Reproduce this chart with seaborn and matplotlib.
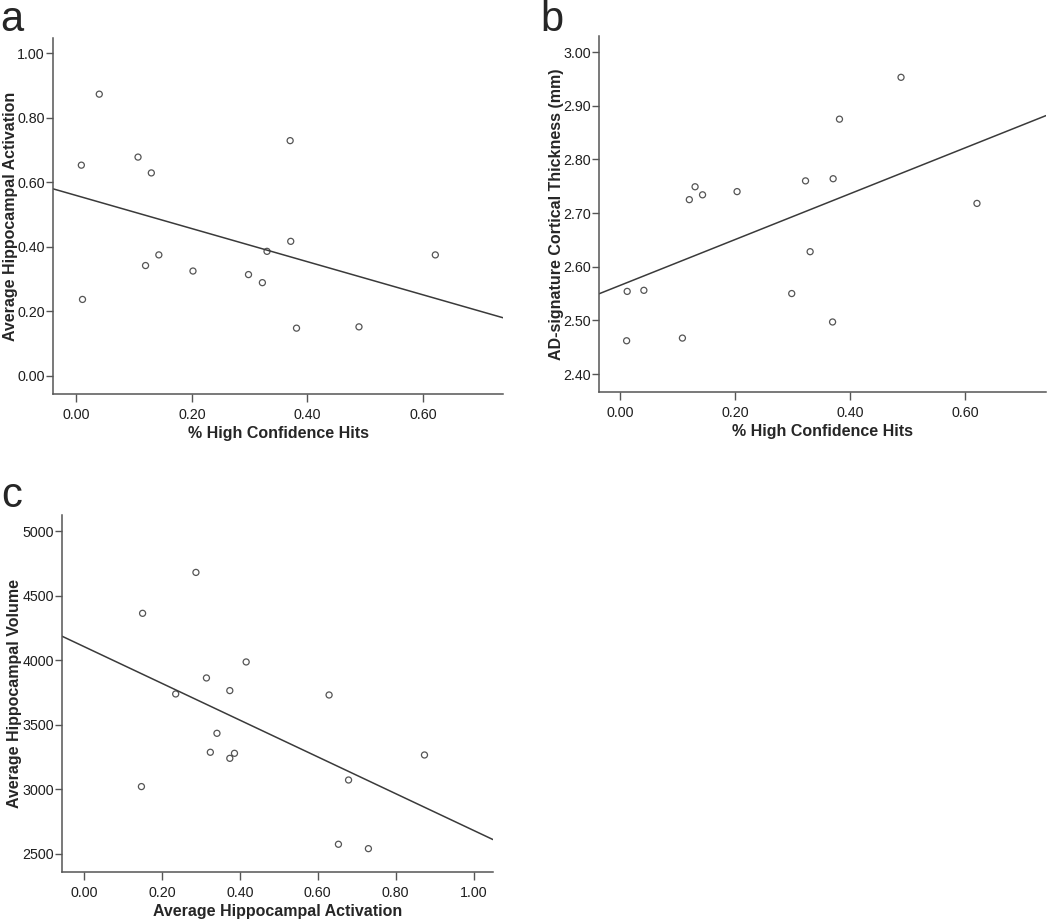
"""
Three-panel scatter with linear fit lines (hit rate, activation, thickness, volume).
"""

import matplotlib
matplotlib.use("Agg")
import matplotlib.pyplot as plt
import seaborn as sns
import numpy as np

sns.set_style("white")
plt.rcParams['font.family'] = ['Liberation Sans', 'DejaVu Sans']

# % high confidence hits (shared x for panels a and b)
hits = [0.009, 0.040, 0.011, 0.107, 0.130, 0.120, 0.143, 0.202,
        0.298, 0.322, 0.330, 0.370, 0.371, 0.381, 0.489, 0.621]
# average hippocampal activation (panel a, y)
activation = [0.653, 0.873, 0.237, 0.678, 0.629, 0.342, 0.375, 0.325,
              0.314, 0.289, 0.386, 0.729, 0.417, 0.148, 0.152, 0.375]

# panel b
hits_b = [0.012, 0.041, 0.011, 0.108, 0.120, 0.130, 0.143, 0.203,
          0.298, 0.322, 0.330, 0.370, 0.369, 0.381, 0.488, 0.620]
thickness = [2.554, 2.556, 2.462, 2.467, 2.725, 2.749, 2.734, 2.740,
             2.550, 2.760, 2.628, 2.764, 2.497, 2.875, 2.953, 2.718]

# panel c
activation_c = [0.150, 0.147, 0.235, 0.287, 0.314, 0.324, 0.341, 0.374,
                0.374, 0.386, 0.416, 0.629, 0.653, 0.679, 0.730, 0.874]
volume = [4365, 3022, 3740, 4682, 3864, 3288, 3435, 3766,
          3241, 3280, 3988, 3732, 2575, 3073, 2541, 3267]

W, H = 1050, 919
fig = plt.figure(figsize=(W / 100, H / 100), dpi=100)


def make_axes(left, top, right, bottom):
    return fig.add_axes([left / W, 1 - bottom / H, (right - left) / W, (bottom - top) / H])


def panel(ax, x, y, xlim, ylim, xticks, yticks, fmt_y, xlabel, ylabel, ylab_x):
    ax.set_xlim(xlim)
    ax.set_ylim(ylim)
    sns.regplot(x=np.array(x), y=np.array(y), ax=ax, ci=None, truncate=False,
                scatter_kws={'s': 19, 'facecolors': 'none', 'edgecolors': '#2a2a2a',
                             'linewidths': 0.9},
                line_kws={'color': '#3a3a3a', 'linewidth': 1.1})
    ax.set_xlim(xlim)
    ax.set_ylim(ylim)
    ax.set_xticks(xticks)
    ax.set_yticks(yticks)
    ax.set_xticklabels(['{:.2f}'.format(v) for v in xticks])
    ax.set_yticklabels([fmt_y.format(v) for v in yticks])
    ax.tick_params(axis='x', direction='out', length=6, width=1.0,
                   color='#555555', labelsize=10.3, labelcolor='#1e1e1e', pad=4,
                   bottom=True)
    ax.tick_params(axis='y', direction='out', length=5, width=1.0,
                   color='#555555', labelsize=10.3, labelcolor='#1e1e1e', pad=1,
                   left=True)
    for side in ['top', 'right']:
        ax.spines[side].set_visible(False)
    for side in ['left', 'bottom']:
        ax.spines[side].set_color('#555555')
        ax.spines[side].set_linewidth(1.1)
    ax.set_xlabel(xlabel, fontsize=11.5, fontweight='bold', labelpad=3)
    ax.set_ylabel(ylabel, fontsize=11.5, fontweight='bold')
    ax.yaxis.set_label_coords(ylab_x, 0.5)
    ax.grid(False)


ax_a = make_axes(53, 38, 503, 394)
panel(ax_a, hits, activation, (-0.04, 0.738), (-0.056, 1.047),
      [0.0, 0.2, 0.4, 0.6], [0.0, 0.2, 0.4, 0.6, 0.8, 1.0],
      '{:.2f}', '% High Confidence Hits', 'Average Hippocampal Activation',
      (18 - 53) / 450)

ax_b = make_axes(599, 36, 1046, 392)
panel(ax_b, hits_b, thickness, (-0.037, 0.74), (2.3665, 3.030),
      [0.0, 0.2, 0.4, 0.6], [2.4, 2.5, 2.6, 2.7, 2.8, 2.9, 3.0],
      '{:.2f}', '% High Confidence Hits', 'AD-signature Cortical Thickness (mm)',
      (564 - 599) / 447)

ax_c = make_axes(62, 515, 493, 872)
panel(ax_c, activation_c, volume, (-0.057, 1.05), (2360, 5127),
      [0.0, 0.2, 0.4, 0.6, 0.8, 1.0], [2500, 3000, 3500, 4000, 4500, 5000],
      '{:.0f}', 'Average Hippocampal Activation', 'Average Hippocampal Volume',
      (22 - 62) / 431)

# panel letters
fig.text(0 / W, 1 - 0 / H, 'a', fontsize=30, va='top', ha='left')
fig.text(540 / W, 1 - 0 / H, 'b', fontsize=30, va='top', ha='left')
fig.text(1 / W, 1 - 476 / H, 'c', fontsize=30, va='top', ha='left')

fig.savefig('out.png', dpi=100)
